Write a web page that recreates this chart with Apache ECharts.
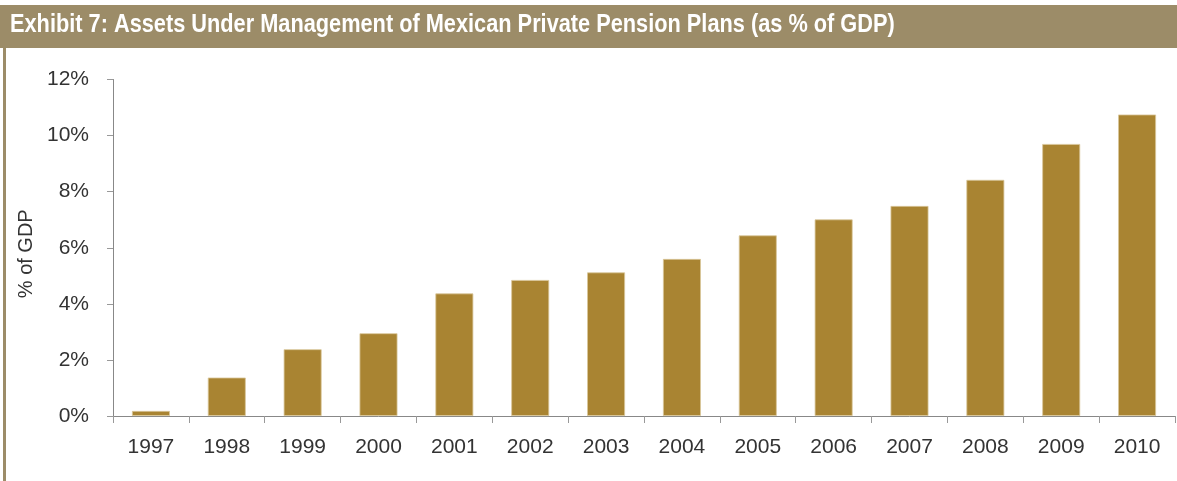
<!DOCTYPE html>
<html>
<head>
<meta charset="utf-8">
<script src="https://cdn.jsdelivr.net/npm/echarts@6/dist/echarts.min.js"></script>
<style>html,body{margin:0;padding:0;background:#fff;}#c{width:1177px;height:481px;}</style>
</head>
<body>
<div id="c"></div>
<script>
const titleText = 'Exhibit 7: Assets Under Management of Mexican Private Pension Plans (as % of GDP)';
const yAxisName = '% of GDP';
const years = ['1997','1998','1999','2000','2001','2002','2003','2004','2005','2006','2007','2008','2009','2010'];
const aumPctGdp = [0.18, 1.37, 2.38, 2.95, 4.37, 4.85, 5.12, 5.6, 6.44, 7.01, 7.49, 8.42, 9.7, 10.75];
const yTicks = [0, 2, 4, 6, 8, 10, 12];

const chart = echarts.init(document.getElementById('c'), null, {renderer: 'canvas'});
const fontFam = '"Liberation Sans", Arial, sans-serif';
chart.setOption({
  animation: false,
  backgroundColor: '#fff',
  graphic: [
    {type: 'rect', left: 0, top: 5, shape: {width: 1177, height: 43}, style: {fill: '#9c8c68'}},
    {type: 'rect', left: 3, top: 48, shape: {width: 3, height: 433}, style: {fill: '#9c8c68'}},
    {type: 'text', x: 10, y: 13, scaleX: 0.87, style: {text: titleText, fill: '#fff', font: 'bold 25px ' + fontFam}}
  ],
  grid: {left: 113, right: 2, top: 79.5, bottom: 65},
  xAxis: {
    type: 'category',
    data: years,
    axisLine: {lineStyle: {color: '#888', width: 1}},
    axisTick: {show: true, length: 7, lineStyle: {color: '#999'}},
    axisLabel: {color: '#333', fontSize: 21, fontFamily: fontFam, margin: 21}
  },
  yAxis: {
    type: 'value',
    min: yTicks[0], max: yTicks[yTicks.length - 1], interval: 2,
    name: yAxisName,
    nameLocation: 'middle',
    nameGap: 57,
    nameTextStyle: {color: '#333', fontSize: 20, fontFamily: fontFam, padding: [0, 12, 0, 0]},
    axisLine: {show: true, lineStyle: {color: '#888', width: 1}},
    axisTick: {show: true, length: 6, lineStyle: {color: '#999'}},
    splitLine: {show: false},
    axisLabel: {color: '#333', fontSize: 21, fontFamily: fontFam, margin: 24, formatter: v => v + '%'}
  },
  series: [{
    type: 'bar',
    data: aumPctGdp,
    barWidth: '50%',
    itemStyle: {color: '#a98432', borderColor: '#d9c69a', borderWidth: 0.8}
  }]
});
</script>
</body>
</html>
